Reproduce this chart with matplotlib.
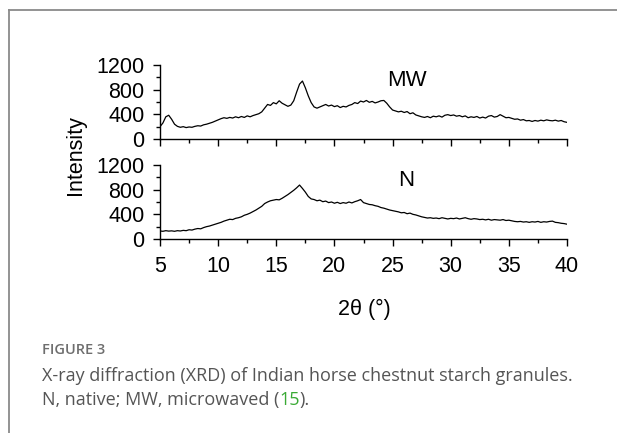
import numpy as np
import matplotlib
matplotlib.use("Agg")
import matplotlib.pyplot as plt
from matplotlib.ticker import MultipleLocator
from matplotlib.lines import Line2D

# ---- data (0.25 deg steps from 5 to 40) ----
mw_intensity = [
    200, 260, 360, 385, 320, 240, 205, 190, 200, 185, 195, 190, 205, 215, 210, 230,
    240, 255, 270, 290, 310, 330, 345, 335, 350, 340, 360, 345, 365, 350, 375, 360,
    380, 395, 410, 440, 500, 560, 545, 590, 570, 620, 580, 555, 530, 550, 620, 760,
    890, 940, 830, 700, 590, 520, 500, 520, 540, 560, 535, 550, 525, 540, 510, 530,
    520, 545, 560, 590, 575, 615, 600, 625, 595, 610, 585, 600, 620, 625, 580, 520,
    470, 455, 440, 450, 430, 445, 410, 425, 390, 375, 360, 350, 365, 345, 370, 360,
    375, 355, 385, 395, 380, 390, 370, 380, 360, 375, 345, 360, 350, 365, 340, 355,
    340, 370, 380, 355, 365, 395, 370, 345, 350, 335, 320, 325, 305, 315, 295, 300,
    285, 300, 290, 305, 295, 310, 300, 295, 305, 290, 300, 280, 270,
]
n_intensity = [
    130, 125, 135, 128, 132, 125, 135, 130, 140, 135, 150, 145, 160, 170, 165, 185,
    200, 210, 225, 240, 255, 270, 290, 305, 320, 315, 335, 345, 360, 385, 400, 420,
    445, 470, 500, 530, 575, 600, 620, 630, 640, 635, 660, 690, 720, 755, 790, 830,
    875, 820, 760, 690, 650, 640, 620, 630, 605, 615, 590, 600, 580, 595, 575, 590,
    580, 600, 585, 605, 620, 640, 590, 575, 560, 555, 540, 530, 510, 500, 485, 470,
    460, 450, 440, 425, 430, 410, 420, 400, 390, 375, 360, 350, 340, 345, 335, 340,
    330, 345, 335, 325, 335, 330, 340, 325, 335, 345, 330, 320, 330, 325, 315, 320,
    310, 320, 305, 315, 310, 305, 315, 300, 305, 295, 285, 280, 285, 275, 280, 270,
    280, 275, 285, 270, 280, 275, 285, 290, 270, 265, 255, 250, 240,
]
angle_start, angle_end = 5, 40
x_ticks = [5, 10, 15, 20, 25, 30, 35, 40]
y_ticks = [0, 400, 800, 1200]
panel_labels = ["MW", "N"]

mw_angle = np.linspace(angle_start, angle_end, len(mw_intensity))
n_angle = np.linspace(angle_start, angle_end, len(n_intensity))

plt.rcParams['font.family'] = ['Liberation Sans', 'DejaVu Sans']

W, H = 617, 433
fig = plt.figure(figsize=(W / 100, H / 100), dpi=100)

# card border (top and left)
fig.add_artist(Line2D([9 / W, 9 / W], [0, 1 - 10 / H], color='#8a8a8a', lw=1.3,
                      transform=fig.transFigure))
fig.add_artist(Line2D([9 / W, 1], [1 - 10 / H, 1 - 10 / H], color='#8a8a8a', lw=1.3,
                      transform=fig.transFigure))

left = 160 / W
width = (567 - 160) / W
ax_top = fig.add_axes([left, 1 - 139 / H, width, 74 / H])
ax_bot = fig.add_axes([left, 1 - 239 / H, width, 74 / H])

LS = 15.5
for ax, xs, ys, lab in [(ax_top, mw_angle, mw_intensity, panel_labels[0]),
                        (ax_bot, n_angle, n_intensity, panel_labels[1])]:
    ax.plot(xs, ys, color='black', lw=0.9)
    ax.set_xlim(angle_start, angle_end)
    ax.set_ylim(0, 1200)
    ax.spines['top'].set_visible(False)
    ax.spines['right'].set_visible(False)
    ax.spines['left'].set_linewidth(1.0)
    ax.spines['bottom'].set_linewidth(1.0)
    ax.set_xticks(x_ticks)
    ax.xaxis.set_minor_locator(MultipleLocator(2.5))
    ax.set_yticks(y_ticks)
    ax.yaxis.set_minor_locator(MultipleLocator(200))
    ax.tick_params(which='major', length=5, width=1.0, labelsize=LS, pad=4)
    ax.tick_params(which='minor', length=3, width=1.0)
    ax.tick_params(axis='y', pad=6)
    ax.patch.set_alpha(0)
    ax.text(26.2, 950, lab, fontsize=16, ha='center', va='center')

ax_top.tick_params(axis='x', labelbottom=False)
ax_bot.tick_params(axis='x', pad=7)

fig.text(75 / W, 1 - 155 / H, "Intensity", rotation=90, fontsize=LS,
         ha='center', va='center')
fig.text(364 / W, 1 - 309 / H, "2θ (°)", fontsize=LS, ha='center', va='center')

# caption
cap_font = ['Open Sans', 'DejaVu Sans']
CS = 13.0
fig.text(42 / W, 1 - 350 / H, "FIGURE 3", fontsize=10.5, fontweight='semibold',
         color='#6e6e6e', family=cap_font, ha='left', va='center')
fig.text(42 / W, 1 - 376 / H, "X-ray diffraction (XRD) of Indian horse chestnut starch granules.",
         fontsize=CS, color='#555555', family=cap_font, ha='left', va='center')
t1 = fig.text(42 / W, 1 - 405 / H, "N, native; MW, microwaved (",
              fontsize=CS, color='#555555', family=cap_font, ha='left', va='baseline')
fig.canvas.draw()
r = fig.canvas.get_renderer()
x1 = t1.get_window_extent(r).x1
t2 = fig.text(x1 / W, 1 - 405 / H, "15", fontsize=CS, color='#3aaa35',
              family=cap_font, ha='left', va='baseline')
fig.canvas.draw()
x2 = t2.get_window_extent(r).x1
fig.text(x2 / W, 1 - 405 / H, ").", fontsize=CS, color='#555555',
         family=cap_font, ha='left', va='baseline')

fig.savefig("out.png", dpi=100)
